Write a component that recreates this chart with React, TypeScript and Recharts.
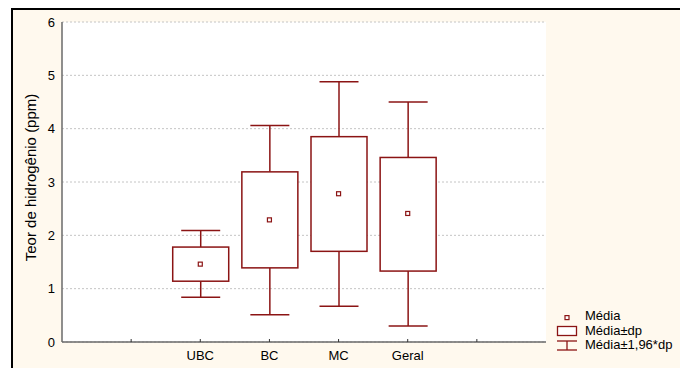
import React from 'react';
import {
  ComposedChart,
  Bar,
  Scatter,
  XAxis,
  YAxis,
  CartesianGrid,
  Legend,
} from 'recharts';

const categories = ['UBC', 'BC', 'MC', 'Geral'];
const means = [1.46, 2.29, 2.78, 2.41];
const boxLow = [1.14, 1.39, 1.70, 1.33];
const boxHigh = [1.78, 3.19, 3.85, 3.46];
const whiskerLow = [0.84, 0.51, 0.67, 0.30];
const whiskerHigh = [2.09, 4.06, 4.88, 4.50];
const yTicks = [0, 1, 2, 3, 4, 5, 6];
const xTicks = [1, 2, 3, 4, 5, 6];
const yLabel = 'Teor de hidrogênio (ppm)';
const legendLabels = ['Média', 'Média±dp', 'Média±1,96*dp'];

const FIRST_SLOT = 2;
const data = categories.map((name, i) => ({
  name,
  pos: i + FIRST_SLOT,
  mean: means[i],
  boxLow: boxLow[i],
  boxHigh: boxHigh[i],
  whisker: [whiskerLow[i], whiskerHigh[i]],
}));

const RED = '#8b1414';
const FONT = '"Liberation Sans", Arial, sans-serif';
const BOX_W = 56;
const CAP_W = 39;

const BoxShape = (props: any) => {
  const { x, y, width, height, payload } = props;
  if (x == null || y == null) return null;
  const cx = x + width / 2;
  const top = Math.min(y, y + height);
  const bottom = Math.max(y, y + height);
  const [lo, hi] = payload.whisker;
  const ppu = (bottom - top) / (hi - lo);
  const yOf = (v: number) => bottom - (v - lo) * ppu;
  const bTop = yOf(payload.boxHigh);
  const bBot = yOf(payload.boxLow);
  return (
    <g stroke={RED} strokeWidth={1.5} fill="none">
      <line x1={cx} x2={cx} y1={top} y2={bTop} />
      <line x1={cx} x2={cx} y1={bBot} y2={bottom} />
      <line x1={cx - CAP_W / 2} x2={cx + CAP_W / 2} y1={top} y2={top} />
      <line x1={cx - CAP_W / 2} x2={cx + CAP_W / 2} y1={bottom} y2={bottom} />
      <rect x={cx - BOX_W / 2} y={bTop} width={BOX_W} height={bBot - bTop} fill="#fff" />
    </g>
  );
};

const MeanShape = (props: any) => {
  const { cx, cy } = props;
  if (cx == null || cy == null) return null;
  return <rect x={cx - 2} y={cy - 2} width={4} height={4} fill="#fff" stroke={RED} strokeWidth={1.2} />;
};

const YLabel = (props: any) => {
  const vb = props.viewBox || { x: 0, y: 0, width: 0, height: 0 };
  const x = vb.x + 36;
  const y = vb.y + vb.height / 2 - 4.5;
  return (
    <text
      x={x}
      y={y}
      transform={`rotate(-90, ${x}, ${y})`}
      textAnchor="middle"
      fontFamily={FONT}
      fontSize={15}
      fill="#000"
    >
      {yLabel}
    </text>
  );
};

const LegendContent = () => {
  const icons = [
    <rect key="m" x={10} y={6.6} width={4} height={4} fill="#fff" stroke={RED} strokeWidth={1.2} />,
    <rect key="b" x={2.5} y={2.5} width={19} height={9} fill="#fff" stroke={RED} strokeWidth={1.3} />,
    <g key="w" stroke={RED} strokeWidth={1.3}>
      <line x1={2} x2={22} y1={3} y2={3} />
      <line x1={2} x2={22} y1={12} y2={12} />
      <line x1={12} x2={12} y1={3} y2={12} />
    </g>,
  ];
  return (
    <div style={{ fontFamily: FONT, fontSize: 13, color: '#000', lineHeight: '14.5px' }}>
      {legendLabels.map((label, i) => (
        <div key={label} style={{ display: 'flex', alignItems: 'flex-start', height: 14.5 }}>
          <svg width={30} height={14.5} style={{ display: 'block' }}>
            {icons[i]}
          </svg>
          <span style={{ whiteSpace: 'nowrap' }}>{label}</span>
        </div>
      ))}
    </div>
  );
};

export default function App() {
  return (
    <div style={{ position: 'absolute', left: 0, top: 0, width: 680, height: 368, background: '#fff' }}>
      <div
        style={{
          position: 'absolute',
          left: 11,
          top: 8,
          width: 669,
          height: 360,
          background: '#fff9ee',
          borderTop: '2px solid #000',
          borderLeft: '2px solid #000',
          boxSizing: 'border-box',
        }}
      />
      <div style={{ position: 'absolute', left: 0, top: 0 }}>
        <ComposedChart
          width={680}
          height={368}
          data={data}
          margin={{ top: 22, right: 134, bottom: 0, left: 0 }}
        >
          <CartesianGrid
            xAxisId="x"
            yAxisId="y"
            vertical={false}
            fill="#fff"
            fillOpacity={1}
            stroke="#c4c4c4"
            strokeDasharray="2 2"
          />
          <XAxis
            xAxisId="x"
            dataKey="pos"
            type="number"
            domain={[0, categories.length + 3]}
            ticks={xTicks}
            allowDataOverflow
            height={26}
            tickSize={-3}
            tickMargin={12}
            tickFormatter={(v: number) => categories[v - FIRST_SLOT] ?? ''}
            tick={{ fontFamily: FONT, fontSize: 13, fill: '#000' }}
            axisLine={{ stroke: '#6a6a6a', strokeWidth: 1.5 }}
            tickLine={{ stroke: '#333' }}
          />
          <XAxis
            xAxisId="top"
            orientation="top"
            type="number"
            domain={[0, categories.length + 3]}
            ticks={xTicks}
            allowDataOverflow
            height={0}
            tickSize={-3}
            tick={false}
            axisLine={{ stroke: '#6a6a6a', strokeWidth: 1.5 }}
            tickLine={{ stroke: '#333' }}
          />
          <YAxis
            yAxisId="y"
            type="number"
            domain={[0, 6]}
            ticks={yTicks}
            allowDataOverflow
            width={62}
            tickSize={-3}
            tickMargin={10}
            tickLine={false}
            tick={{ fontFamily: FONT, fontSize: 13, fill: '#000' }}
            axisLine={{ stroke: '#6a6a6a', strokeWidth: 1.5 }}
            label={<YLabel />}
          />
          <YAxis
            yAxisId="right"
            orientation="right"
            type="number"
            domain={[0, 6]}
            ticks={yTicks}
            allowDataOverflow
            width={0}
            tickSize={-3}
            tick={false}
            axisLine={{ stroke: '#6a6a6a', strokeWidth: 1.5 }}
            tickLine={{ stroke: '#333' }}
          />
          <Bar
            xAxisId="x"
            yAxisId="y"
            dataKey="whisker"
            barSize={BOX_W}
            shape={<BoxShape />}
            isAnimationActive={false}
          />
          <Scatter
            xAxisId="x"
            yAxisId="y"
            dataKey="mean"
            shape={<MeanShape />}
            isAnimationActive={false}
          />
          <Legend
            layout="vertical"
            align="center"
            verticalAlign="middle"
            content={<LegendContent />}
            wrapperStyle={{ left: 555, top: 309, width: 125, height: 45 }}
          />
        </ComposedChart>
      </div>
    </div>
  );
}
